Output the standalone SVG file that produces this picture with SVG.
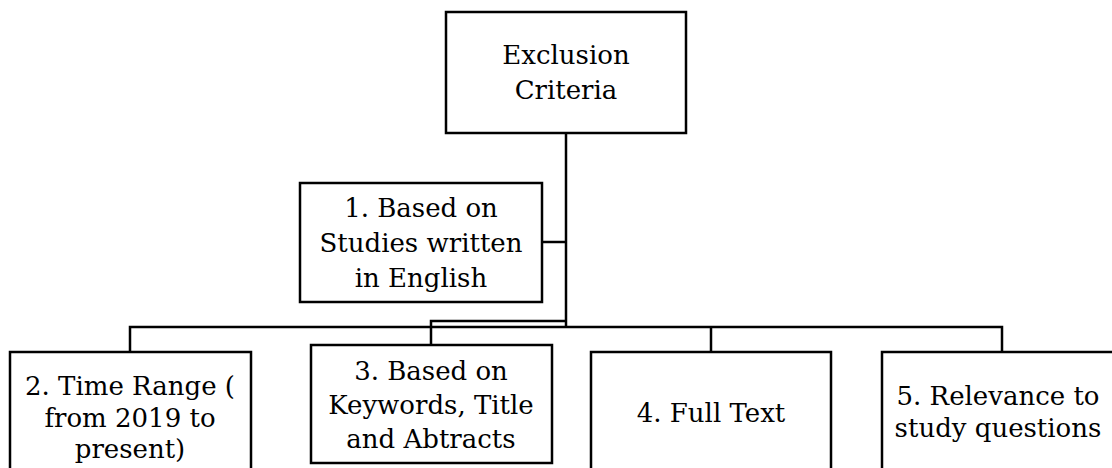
<svg xmlns="http://www.w3.org/2000/svg" width="1112" height="468" viewBox="0 0 1112 468">
<style>
.box{fill:#fff;stroke:#000;stroke-width:2.5}
.ln{fill:none;stroke:#000;stroke-width:2.5}
text{font-family:"DejaVu Serif","Liberation Serif",serif;font-size:26px;fill:#000;text-anchor:middle}
</style>
<rect width="1112" height="468" fill="#fff"/>
<g id="connectors">
<path class="ln" d="M566 133 V327"/>
<path class="ln" d="M542 242 H566"/>
<path class="ln" d="M130 352 V327 H1002 V352"/>
<path class="ln" d="M711 327 V352"/>
<path class="ln" d="M431 345 V321 H566"/>
</g>
<g id="n0">
<rect class="box" x="446" y="12" width="240" height="121"/>
<text x="566" y="64">Exclusion</text>
<text x="566" y="99">Criteria</text>
</g>
<g id="n1">
<rect class="box" x="300" y="183" width="242" height="119"/>
<text x="421" y="217">1. Based on</text>
<text x="421" y="252">Studies written</text>
<text x="421" y="287">in English</text>
</g>
<g id="n2">
<rect class="box" x="10" y="352" width="241" height="130"/>
<text x="130" y="395">2. Time Range (</text>
<text x="130" y="427">from 2019 to</text>
<text x="130" y="458">present)</text>
</g>
<g id="n3">
<rect class="box" x="311" y="345" width="241" height="118"/>
<text x="431" y="380">3. Based on</text>
<text x="431" y="414">Keywords, Title</text>
<text x="431" y="448">and Abtracts</text>
</g>
<g id="n4">
<rect class="box" x="591" y="352" width="240" height="130"/>
<text x="711" y="422">4. Full Text</text>
</g>
<g id="n5">
<rect class="box" x="882" y="352" width="240" height="130"/>
<text x="998" y="405">5. Relevance to</text>
<text x="998" y="437">study questions</text>
</g>
</svg>
